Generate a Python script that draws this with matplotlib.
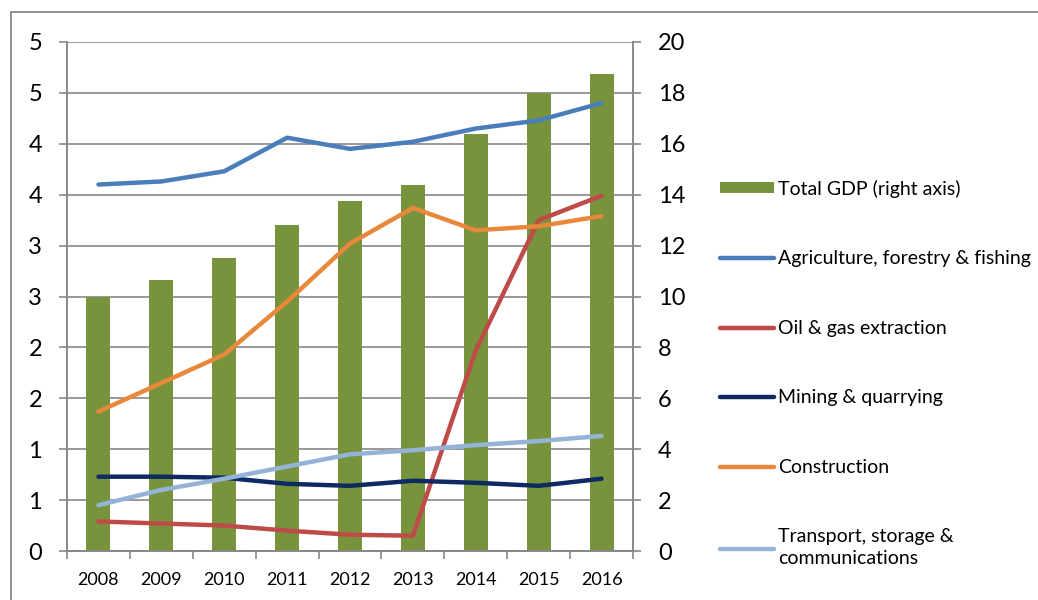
import numpy as np
import matplotlib
matplotlib.use("Agg")
import matplotlib.pyplot as plt
from matplotlib.lines import Line2D
from matplotlib.patches import Patch, Rectangle

plt.rcParams['font.family'] = ['Lato', 'DejaVu Sans']

# data
years = ['2008', '2009', '2010', '2011', '2012', '2013', '2014', '2015', '2016']
total_gdp = [10.0, 10.65, 11.5, 12.8, 13.75, 14.4, 16.4, 18.0, 18.75]
agriculture = [3.60, 3.63, 3.73, 4.06, 3.95, 4.02, 4.15, 4.23, 4.40]
oil_gas = [0.29, 0.27, 0.25, 0.20, 0.16, 0.15, 1.97, 3.25, 3.49]
mining = [0.73, 0.73, 0.72, 0.66, 0.64, 0.69, 0.67, 0.64, 0.71]
construction = [1.37, 1.65, 1.93, 2.45, 3.02, 3.37, 3.15, 3.19, 3.29]
transport = [0.45, 0.60, 0.71, 0.83, 0.95, 0.99, 1.04, 1.08, 1.13]

left_ticks = [0, 0.5, 1, 1.5, 2, 2.5, 3, 3.5, 4, 4.5, 5]
left_labels = ['0', '1', '1', '2', '2', '3', '3', '4', '4', '5', '5']
right_ticks = [0, 2, 4, 6, 8, 10, 12, 14, 16, 18, 20]

series = [
    ('Agriculture, forestry & fishing', agriculture, '#4A7EBB'),
    ('Oil & gas extraction', oil_gas, '#BE4B48'),
    ('Mining & quarrying', mining, '#0E2A62'),
    ('Construction', construction, '#E8883A'),
    ('Transport, storage &\ncommunications', transport, '#95B3D7'),
]
bar_color = '#77933C'
grey = '#888888'

fig = plt.figure(figsize=(10.38, 6), dpi=100)
fig.patches.append(Rectangle((11 / 1038, -0.1), 1.2, 1.1 - 12 / 600,
                             transform=fig.transFigure, fill=False,
                             edgecolor=grey, lw=1.3))

ax = fig.add_axes([67 / 1038, 49 / 600, 566 / 1038, 509 / 600])
x = np.arange(len(years))

# bars on the bottom axes (scale shown on the right)
ax.bar(x, total_gdp, width=0.38, color=bar_color, zorder=2)
ax.set_ylim(0, 20)
ax.set_xlim(-0.5, len(years) - 0.5)
ax.set_yticks(right_ticks)
ax.grid(axis='y', color=grey, lw=1.2)
ax.set_axisbelow(True)

# lines on the twin axes (scale shown on the left)
ax2 = ax.twinx()
for name, vals, c in series:
    ax2.plot(x, vals, color=c, lw=3.2, solid_capstyle='round')
ax2.set_ylim(0, 5)
ax2.set_yticks(left_ticks)
ax2.set_yticklabels(left_labels)

# swap sides: right scale for bars, left scale for lines
ax.yaxis.tick_right()
ax.yaxis.set_label_position('right')
ax2.yaxis.tick_left()
ax2.yaxis.set_label_position('left')

ax.set_xticks(x)
ax.set_xticklabels(years)
ax.set_xticks(np.arange(-0.5, len(years)), minor=True)
ax.tick_params(axis='x', which='major', length=0, pad=15, labelsize=13)
ax.tick_params(axis='x', which='minor', length=6, color=grey, width=1.2)
ax.tick_params(axis='y', length=6, color=grey, width=1.2, pad=12, labelsize=17)
ax2.tick_params(axis='y', length=6, color=grey, width=1.2, pad=12, labelsize=17)

for a in (ax, ax2):
    a.spines['top'].set_visible(False)
    for s in ('left', 'right', 'bottom'):
        a.spines[s].set_color(grey)
        a.spines[s].set_linewidth(1.2)

handles = [Patch(facecolor=bar_color)]
labels = ['Total GDP (right axis)']
for name, vals, c in series:
    handles.append(Line2D([], [], color=c, lw=3.2, solid_capstyle='round'))
    labels.append(name)

leg = fig.legend(handles, labels, loc='upper left', bbox_to_anchor=(712 / 1038, 1 - 172 / 600),
                 frameon=False, fontsize=14, handlelength=2.8, handleheight=0.5,
                 handletextpad=0.2, labelspacing=2.7, borderaxespad=0)
for t in leg.get_texts():
    t.set_linespacing(1.35)

fig.savefig('out.png', dpi=100)
